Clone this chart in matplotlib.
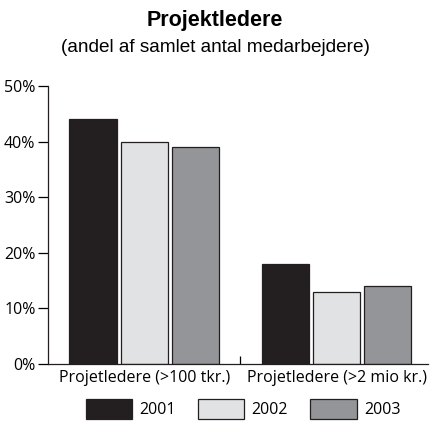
import numpy as np
import matplotlib.pyplot as plt

categories = ['Projetledere (>100 tkr.)', 'Projetledere (>2 mio kr.)']
years = ['2001', '2002', '2003']
v2001 = [44, 18]
v2002 = [40, 13]
v2003 = [39, 14]
colors = ['#231f20', '#e1e2e4', '#939598']


def main():
    plt.rcParams['font.family'] = ['Open Sans', 'DejaVu Sans']
    fig = plt.figure(figsize=(4.30, 4.23), dpi=100)
    ax = fig.add_axes([0.1116, 0.1395, 0.884, 0.657])

    x = np.arange(len(categories))
    w = 0.245
    off = 0.266
    for i, (vals, c, lab) in enumerate(zip([v2001, v2002, v2003], colors, years)):
        ax.bar(x + (i - 1) * off, vals, w, color=c, edgecolor='#231f20',
               linewidth=0.9, label=lab)

    ax.set_ylim(0, 50)
    ax.set_xlim(-0.5, 1.475)
    ax.set_yticks(range(0, 51, 10))
    ax.set_yticklabels([f'{t}%' for t in range(0, 51, 10)], fontsize=11.5)
    ax.set_xticks(x)
    ax.set_xticklabels(categories, fontsize=11.5)
    ax.tick_params(axis='x', which='major', length=0, pad=4)
    ax.set_xticks([0.5], minor=True)
    ax.tick_params(axis='x', which='minor', direction='in', length=6, width=0.9)
    ax.tick_params(axis='y', direction='out', length=7, width=0.9, pad=2)
    for s in ['top', 'right']:
        ax.spines[s].set_visible(False)
    for s in ['left', 'bottom']:
        ax.spines[s].set_linewidth(0.9)
        ax.spines[s].set_color('#231f20')

    fig.text(0.5, 0.952, 'Projektledere', ha='center', va='center',
             fontsize=15.5, fontweight='bold', family='Liberation Sans')
    fig.text(0.5, 0.888, '(andel af samlet antal medarbejdere)', ha='center',
             va='center', fontsize=13.7, family='Liberation Sans')

    fig.legend(loc='center', bbox_to_anchor=(0.565, 0.033), ncol=3,
               frameon=False, fontsize=11.5, handlelength=2.9, handleheight=1.6,
               handletextpad=0.45, columnspacing=1.4)

    fig.savefig('out.png', dpi=100)


if __name__ == '__main__':
    main()
